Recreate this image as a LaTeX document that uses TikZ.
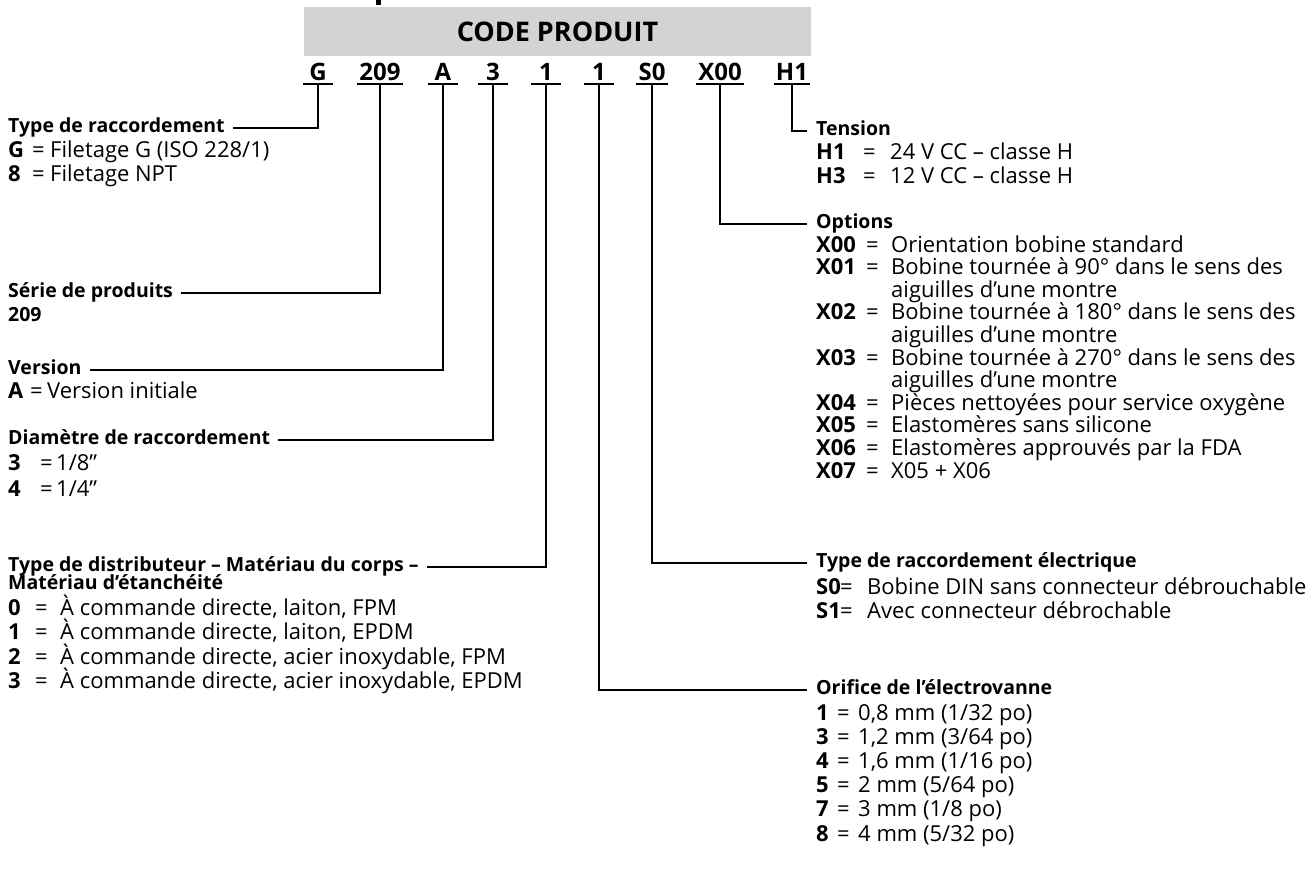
\documentclass[tikz,border=0pt]{standalone}
\usepackage{fontspec}
\setmainfont{Open Sans}
\usepackage{array}
\usetikzlibrary{positioning}
\definecolor{hdrgray}{RGB}{209,211,212}
\newcommand{\bodyfont}{\fontsize{22}{23.5}\selectfont}
\newcommand{\lblfont}{\bfseries\fontsize{19.5}{23.5}\selectfont}
\newcommand{\inch}{\symbol{34}}
% text column whose glyphs do not stretch the rows
\newcolumntype{T}{>{\setbox0=\hbox\bgroup}l<{\egroup\ht0=0pt\dp0=0pt\box0}}
\tikzset{
  header/.style={rectangle, fill=hdrgray, minimum width=507pt, minimum height=49pt, font=\bfseries\fontsize{27}{30}\selectfont},
  code/.style={font=\bfseries\fontsize{24}{28}\selectfont, minimum width=30pt, inner xsep=2pt, inner ysep=3pt, text depth=0pt, anchor=south},
  lbl/.style={font=\lblfont, inner xsep=8pt, inner ysep=0pt, anchor=west, execute at begin node=\strut},
  rlbl/.style={lbl, inner xsep=9pt},
  items/.style={font=\bodyfont, inner sep=0pt, align=left},
  link/.style={line width=1.3pt, black}
}

\begin{document}
\begin{tikzpicture}[x=1pt, y=-1pt]
  \useasboundingbox (0,0) rectangle (1314,873);
  % Header
  \fill (376,0) rectangle (381,5);
  \node[header] (hdr) at (557.5,31.5) {CODE PRODUIT};

  % Code letters
  \foreach \nm/\txt/\xx in {cG/G/318, c209/209/380, cA/A/443, cTh/3/493, cOne/1/546, cTwo/1/599, cS/S0/652, cX/X00/720, cH/H1/792}{
    \node[code] (\nm) at (\xx,84) {\txt};
    \draw[link] (\nm.south west) -- (\nm.south east);
  }

  % Left side
  \node[lbl] (lblType) at (0,128) {Type de raccordement};
  \node[items, below right=1pt and 8pt of lblType.south west] (itType) {%
    \begin{tabular}{@{}>{\bfseries}p{24pt}@{}p{18pt}@{}T@{}}
      G & = & Filetage G (ISO 228/1)\\
      8 & = & Filetage NPT
    \end{tabular}};

  \node[lbl] (lblSerie) at (0,293) {Série de produits};
  \node[lbl, below right=0pt and 0pt of lblSerie.south west] (itSerie) {209};

  \node[lbl] (lblVersion) at (0,370) {Version};
  \node[items, below right=0pt and 8pt of lblVersion.south west] (itVersion) {%
    \begin{tabular}{@{}>{\bfseries}p{22pt}@{}p{17pt}@{}T@{}}
      A & = & Version initiale
    \end{tabular}};

  \node[lbl] (lblDiam) at (0,440) {Diamètre de raccordement};
  \node[items, below right=0pt and 8pt of lblDiam.south west] (itDiam) {%
    \renewcommand{\arraystretch}{1.1}%
    \begin{tabular}{@{}>{\bfseries}p{32pt}@{}p{16pt}@{}T@{}}
      3 & = & 1/8\inch\\
      4 & = & 1/4\inch
    \end{tabular}};

  \node[lbl] (lblDistrib) at (0,567) {Type de distributeur – Matériau du corps –};
  \node[lbl, below right=-6pt and 0pt of lblDistrib.south west] (lblDistribB) {Matériau d’étanchéité};
  \node[items, below right=1pt and 8pt of lblDistribB.south west] (itDistrib) {%
    \renewcommand{\arraystretch}{1.04}%
    \begin{tabular}{@{}>{\bfseries}p{27pt}@{}p{25pt}@{}T@{}}
      0 & = & À commande directe, laiton, FPM\\
      1 & = & À commande directe, laiton, EPDM\\
      2 & = & À commande directe, acier inoxydable, FPM\\
      3 & = & À commande directe, acier inoxydable, EPDM
    \end{tabular}};

  % Right side
  \node[rlbl] (lblTension) at (807,131) {Tension};
  \node[items, below right=0pt and 9pt of lblTension.south west] (itTension) {%
    \begin{tabular}{@{}>{\bfseries}p{47pt}@{}p{27pt}@{}T@{}}
      H1 & = & 24 V CC – classe H\\
      H3 & = & 12 V CC – classe H
    \end{tabular}};

  \node[rlbl] (lblOptions) at (807,224) {Options};
  \node[items, below right=0pt and 9pt of lblOptions.south west] (itOptions) {%
    \renewcommand{\arraystretch}{0.955}%
    \begin{tabular}{@{}>{\bfseries}p{50pt}@{}p{25pt}@{}T@{}}
      X00 & = & Orientation bobine standard\\
      X01 & = & Bobine tournée à 90° dans le sens des\\
          &   & aiguilles d’une montre\\
      X02 & = & Bobine tournée à 180° dans le sens des\\
          &   & aiguilles d’une montre\\
      X03 & = & Bobine tournée à 270° dans le sens des\\
          &   & aiguilles d’une montre\\
      X04 & = & Pièces nettoyées pour service oxygène\\
      X05 & = & Elastomères sans silicone\\
      X06 & = & Elastomères approuvés par la FDA\\
      X07 & = & X05 + X06
    \end{tabular}};

  \node[rlbl] (lblElec) at (807,563) {Type de raccordement électrique};
  \node[items, below right=3pt and 9pt of lblElec.south west] (itElec) {%
    \renewcommand{\arraystretch}{1.02}%
    \begin{tabular}{@{}>{\bfseries}p{24pt}@{}p{27pt}@{}T@{}}
      S0 & = & Bobine DIN sans connecteur débrouchable\\
      S1 & = & Avec connecteur débrochable
    \end{tabular}};

  \node[rlbl] (lblOrifice) at (807,690) {Orifice de l’électrovanne};
  \node[items, below right=1pt and 9pt of lblOrifice.south west] (itOrifice) {%
    \renewcommand{\arraystretch}{1.03}%
    \begin{tabular}{@{}>{\bfseries}p{21pt}@{}p{21pt}@{}T@{}}
      1 & = & 0,8 mm (1/32 po)\\
      3 & = & 1,2 mm (3/64 po)\\
      4 & = & 1,6 mm (1/16 po)\\
      5 & = & 2 mm (5/64 po)\\
      7 & = & 3 mm (1/8 po)\\
      8 & = & 4 mm (5/32 po)
    \end{tabular}};

  % Connectors
  \draw[link] (cG.south) |- (lblType.east);
  \draw[link] (c209.south) |- (lblSerie.east);
  \draw[link] (cA.south) |- (lblVersion.east);
  \draw[link] (cTh.south) |- (lblDiam.east);
  \draw[link] (cOne.south) |- (lblDistrib.east);
  \draw[link] (cTwo.south) |- (lblOrifice.west);
  \draw[link] (cS.south) |- (lblElec.west);
  \draw[link] (cX.south) |- (lblOptions.west);
  \draw[link] (cH.south) |- (lblTension.west);
\end{tikzpicture}
\end{document}
